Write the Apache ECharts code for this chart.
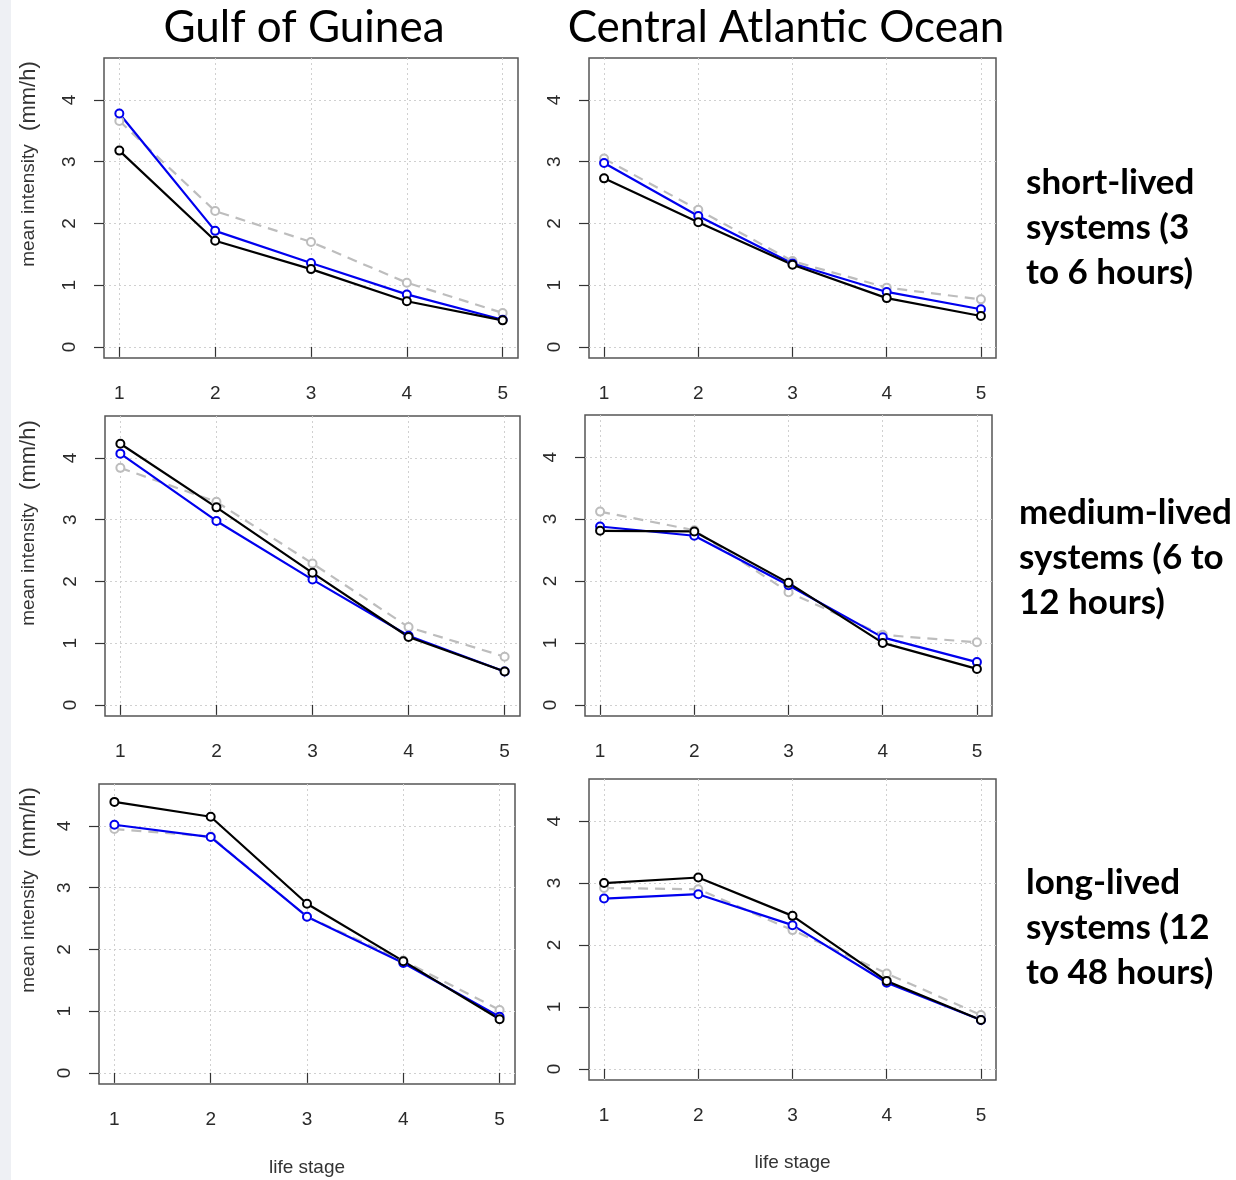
<!DOCTYPE html>
<html>
<head>
<meta charset="utf-8">
<title>mean intensity by life stage</title>
<script src="https://cdn.jsdelivr.net/npm/echarts@6/dist/echarts.min.js"></script>
<style>
  html, body { margin: 0; padding: 0; background: #fff; }
  #chart { width: 1236px; height: 1180px; }
</style>
</head>
<body>
<div id="chart"></div>
<script>
// life stages on the x axis and value ticks on the y axis
const stages = [1, 2, 3, 4, 5];
const yTicks = [0, 1, 2, 3, 4];

// Gulf of Guinea
const gogShortGray = [3.66, 2.2, 1.7, 1.04, 0.55];
const gogShortBlue = [3.78, 1.88, 1.36, 0.85, 0.44];
const gogShortBlack = [3.18, 1.72, 1.26, 0.74, 0.43];

const gogMediumGray = [3.84, 3.29, 2.29, 1.26, 0.78];
const gogMediumBlue = [4.07, 2.98, 2.03, 1.12, 0.54];
const gogMediumBlack = [4.23, 3.2, 2.14, 1.1, 0.54];

const gogLongGray = [3.95, 3.83, 2.53, 1.82, 1.02];
const gogLongBlue = [4.02, 3.82, 2.53, 1.78, 0.91];
const gogLongBlack = [4.39, 4.15, 2.74, 1.81, 0.87];

// Central Atlantic Ocean
const caoShortGray = [3.05, 2.22, 1.39, 0.96, 0.77];
const caoShortBlue = [2.98, 2.12, 1.35, 0.89, 0.61];
const caoShortBlack = [2.73, 2.02, 1.33, 0.79, 0.5];

const caoMediumGray = [3.12, 2.82, 1.82, 1.13, 1.01];
const caoMediumBlue = [2.88, 2.73, 1.93, 1.09, 0.69];
const caoMediumBlack = [2.81, 2.8, 1.97, 1.0, 0.58];

const caoLongGray = [2.92, 2.9, 2.24, 1.54, 0.87];
const caoLongBlue = [2.75, 2.82, 2.32, 1.39, 0.79];
const caoLongBlack = [3.0, 3.09, 2.47, 1.42, 0.79];

const columnTitles = ["Gulf of Guinea", "Central Atlantic Ocean"];
const rowLabels = [
  "short-lived\nsystems (3\nto 6 hours)",
  "medium-lived\nsystems (6 to\n12 hours)",
  "long-lived\nsystems (12\nto 48 hours)",
];

// panel order: row by row, left then right
const panels = [
  [gogShortGray, gogShortBlue, gogShortBlack],
  [caoShortGray, caoShortBlue, caoShortBlack],
  [gogMediumGray, gogMediumBlue, gogMediumBlack],
  [caoMediumGray, caoMediumBlue, caoMediumBlack],
  [gogLongGray, gogLongBlue, gogLongBlack],
  [caoLongGray, caoLongBlue, caoLongBlack],
];

const grids = [
  { left: 104, top: 58, width: 414, height: 300 },
  { left: 589, top: 58, width: 407, height: 300 },
  { left: 105, top: 416, width: 415, height: 300 },
  { left: 585, top: 415, width: 407, height: 301 },
  { left: 99, top: 784, width: 416, height: 300 },
  { left: 589, top: 779, width: 407, height: 301 },
];

const tickFont = { fontFamily: "Liberation Sans, Arial, sans-serif", fontSize: 19, color: "#2a2a2a" };
const gridLine = { show: true, lineStyle: { color: "#d0d0d0", width: 1, type: [2, 3] } };

const xAxes = grids.map((g, i) => ({
  type: "value",
  gridIndex: i,
  min: 0.84,
  max: 5.16,
  axisLine: { show: false },
  axisTick: { show: true, length: 10, customValues: stages, lineStyle: { color: "#333", width: 1.2 } },
  axisLabel: { ...tickFont, customValues: stages, margin: 26 },
  splitLine: gridLine,
  name: i >= 4 ? "life stage" : "",
  nameLocation: "middle",
  nameGap: i === 4 ? 74 : 73,
  nameTextStyle: { fontFamily: "Liberation Sans, Arial, sans-serif", fontSize: 19, color: "#333" },
}));

const yAxes = grids.map((g, i) => ({
  type: "value",
  gridIndex: i,
  min: -0.18,
  max: 4.68,
  axisLine: { show: false },
  axisTick: { show: true, length: 10, customValues: yTicks, lineStyle: { color: "#333", width: 1.2 } },
  axisLabel: { ...tickFont, customValues: yTicks, rotate: 90, margin: 25 },
  splitLine: gridLine,
}));

const lineSeries = (i, values, color, dashed) => ({
  type: "line",
  xAxisIndex: i,
  yAxisIndex: i,
  data: stages.map((s, k) => [s, values[k]]),
  symbol: "emptyCircle",
  symbolSize: 8,
  lineStyle: { color: color, width: 2.2, type: dashed ? [10, 7] : "solid" },
  itemStyle: { color: color, borderColor: color, borderWidth: 2 },
  silent: true,
});

const series = [];
panels.forEach((p, i) => {
  series.push(lineSeries(i, p[0], "#bdbdbd", true));
  series.push(lineSeries(i, p[1], "#0000ee", false));
  series.push(lineSeries(i, p[2], "#000000", false));
});

// y axis titles, one per row on the left
const yTitleCenters = [164, 523, 890];
const yTitles = yTitleCenters.map((cy) => ({
  type: "text",
  x: 29,
  y: cy,
  rotation: Math.PI / 2,
  style: {
    text: "{a|mean intensity}    {b|(mm/h)}",
    align: "center",
    verticalAlign: "middle",
    fill: "#333",
    rich: {
      a: { fontFamily: "Liberation Sans, Arial, sans-serif", fontSize: 19, fill: "#333" },
      b: { fontFamily: "Liberation Sans, Arial, sans-serif", fontSize: 22, fill: "#333" },
    },
  },
}));

const titleTexts = columnTitles.map((t, i) => ({
  type: "text",
  x: i === 0 ? 304 : 786,
  y: 28,
  style: {
    text: t,
    align: "center",
    verticalAlign: "middle",
    fontFamily: "Lato, Carlito, sans-serif",
    fontSize: 44,
    fill: "#000",
  },
}));

const rowTexts = rowLabels.map((t, i) => ({
  type: "text",
  x: i === 1 ? 1019 : 1026,
  y: [160, 490, 860][i],
  style: {
    text: t,
    align: "left",
    verticalAlign: "top",
    fontFamily: "Lato, Carlito, sans-serif",
    fontWeight: "bold",
    fontSize: 35,
    lineHeight: 45,
    fill: "#000",
  },
}));

const chart = echarts.init(document.getElementById("chart"), null, { renderer: "canvas" });
chart.setOption({
  animation: false,
  backgroundColor: "#fff",
  grid: grids.map((g) => ({
    ...g,
    outerBoundsMode: "none",
    containLabel: false,
    show: true,
    borderColor: "#555",
    borderWidth: 1.5,
    backgroundColor: "transparent",
  })),
  xAxis: xAxes,
  yAxis: yAxes,
  series: series,
  graphic: [
    { type: "rect", shape: { x: 0, y: 0, width: 11, height: 1180 }, style: { fill: "#eef0f4" }, z: -1 },
    ...titleTexts,
    ...rowTexts,
    ...yTitles,
  ],
});
</script>
</body>
</html>
